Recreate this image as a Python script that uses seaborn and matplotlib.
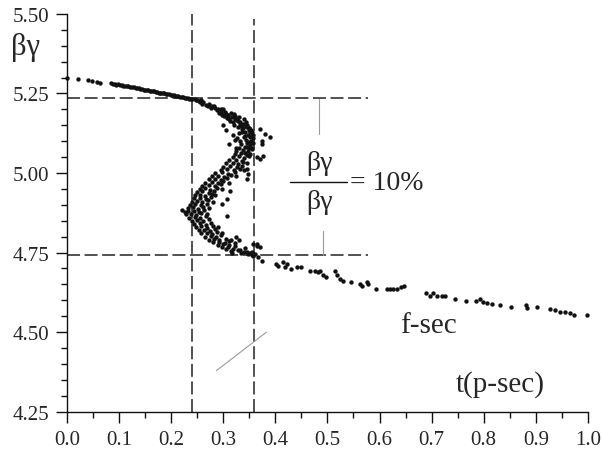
import numpy as np
import pandas as pd
import matplotlib
matplotlib.use("Agg")
import matplotlib.pyplot as plt
from matplotlib.ticker import MultipleLocator, FormatStrFormatter
import seaborn as sns

# --- data: t (p-sec) vs beta*gamma ---
head_t = [0.000, 0.022, 0.040, 0.048, 0.058, 0.063, 0.085, 0.092, 0.098, 0.105,
          0.112, 0.118, 0.125, 0.132, 0.138, 0.145, 0.150, 0.156, 0.162, 0.168,
          0.173, 0.178, 0.184, 0.190, 0.196, 0.202, 0.208, 0.214, 0.220, 0.226,
          0.232, 0.238,
          0.088, 0.095, 0.102, 0.108, 0.115, 0.121, 0.128, 0.135, 0.141, 0.148,
          0.153, 0.159, 0.165, 0.170, 0.176, 0.181, 0.187, 0.193, 0.199, 0.205,
          0.211, 0.217, 0.223, 0.229, 0.235, 0.241, 0.247]
head_bg = [5.298, 5.294, 5.291, 5.289, 5.286, 5.284, 5.282, 5.279, 5.280, 5.276,
           5.275, 5.272, 5.271, 5.268, 5.267, 5.264, 5.262, 5.261, 5.258, 5.257,
           5.255, 5.253, 5.252, 5.249, 5.247, 5.246, 5.243, 5.241, 5.240, 5.237,
           5.236, 5.233,
           5.280, 5.278, 5.277, 5.274, 5.273, 5.270, 5.270, 5.266, 5.265, 5.262,
           5.260, 5.259, 5.257, 5.255, 5.253, 5.251, 5.250, 5.248, 5.246, 5.244,
           5.242, 5.240, 5.238, 5.236, 5.234, 5.232, 5.229]

# upper band up to the turning point
upper_t = [0.245, 0.250, 0.253, 0.256, 0.258, 0.260,
           0.262, 0.266, 0.270, 0.272, 0.276, 0.279,
           0.282, 0.285, 0.288, 0.292, 0.295, 0.298,
           0.300, 0.303, 0.306, 0.309, 0.312, 0.315, 0.318,
           0.320, 0.323, 0.326, 0.329, 0.332, 0.335, 0.338, 0.330,
           0.340, 0.343, 0.346, 0.349, 0.352, 0.355, 0.357, 0.354, 0.345,
           0.300, 0.305, 0.318, 0.322, 0.330, 0.312, 0.325, 0.336, 0.342, 0.350,
           0.290, 0.296, 0.304, 0.310, 0.316, 0.322, 0.327, 0.333, 0.338, 0.344,
           0.349, 0.353, 0.356, 0.358, 0.352, 0.347, 0.341, 0.336, 0.328, 0.320,
           0.313, 0.308, 0.302, 0.297, 0.350, 0.344, 0.339, 0.346, 0.341, 0.352,
           0.356, 0.333, 0.327]
upper_bg = [5.232, 5.228, 5.225, 5.222, 5.230, 5.218,
            5.222, 5.215, 5.210, 5.218, 5.205, 5.212,
            5.210, 5.205, 5.198, 5.190, 5.202, 5.185,
            5.200, 5.192, 5.185, 5.178, 5.170, 5.188, 5.160,
            5.185, 5.178, 5.170, 5.162, 5.155, 5.148, 5.140, 5.175,
            5.170, 5.160, 5.150, 5.140, 5.130, 5.120, 5.110, 5.100, 5.145,
            5.150, 5.135, 5.120, 5.105, 5.125, 5.090, 5.080, 5.128, 5.115, 5.135,
            5.200, 5.195, 5.188, 5.183, 5.176, 5.170, 5.166, 5.160, 5.153, 5.147,
            5.142, 5.135, 5.128, 5.118, 5.112, 5.120, 5.130, 5.138, 5.145, 5.152,
            5.165, 5.172, 5.178, 5.183, 5.098, 5.105, 5.112, 5.082, 5.062, 5.060,
            5.080, 5.100, 5.110]

# band going back down to the left
middle_t = [0.335, 0.345, 0.352, 0.358,
            0.325, 0.338, 0.348, 0.355,
            0.318, 0.330, 0.340, 0.350,
            0.305, 0.318, 0.328, 0.338, 0.345,
            0.295, 0.308, 0.320, 0.332, 0.340,
            0.278, 0.290, 0.302, 0.315, 0.325,
            0.265, 0.278, 0.290, 0.300, 0.312,
            0.255, 0.265, 0.275, 0.288, 0.298,
            0.245, 0.255, 0.265, 0.278, 0.285,
            0.240, 0.250, 0.260, 0.270, 0.280,
            0.232, 0.242, 0.252, 0.262, 0.272,
            0.228, 0.238, 0.248, 0.258, 0.268,
            0.330, 0.342, 0.350, 0.322, 0.334, 0.345, 0.312, 0.324, 0.336,
            0.300, 0.313, 0.326, 0.336, 0.285, 0.298, 0.310, 0.322,
            0.272, 0.284, 0.296, 0.308, 0.260, 0.272, 0.284, 0.295,
            0.250, 0.260, 0.272, 0.282, 0.243, 0.255, 0.266, 0.276,
            0.236, 0.246, 0.258, 0.268, 0.232, 0.243, 0.254, 0.263,
            0.234, 0.246, 0.256, 0.266]
middle_bg = [5.090, 5.093, 5.088, 5.095,
             5.070, 5.072, 5.068, 5.074,
             5.050, 5.052, 5.048, 5.054,
             5.030, 5.032, 5.028, 5.034, 5.030,
             5.010, 5.012, 5.008, 5.014, 5.010,
             4.990, 4.992, 4.988, 4.994, 4.990,
             4.970, 4.972, 4.968, 4.974, 4.970,
             4.950, 4.952, 4.948, 4.954, 4.950,
             4.930, 4.932, 4.928, 4.934, 4.930,
             4.910, 4.912, 4.908, 4.914, 4.910,
             4.890, 4.892, 4.888, 4.894, 4.890,
             4.870, 4.872, 4.868, 4.874, 4.870,
             5.080, 5.082, 5.078, 5.060, 5.062, 5.058, 5.040, 5.042, 5.038,
             5.020, 5.022, 5.018, 5.022, 5.000, 5.002, 4.998, 5.004,
             4.980, 4.982, 4.978, 4.984, 4.960, 4.962, 4.958, 4.964,
             4.940, 4.942, 4.938, 4.944, 4.920, 4.922, 4.918, 4.924,
             4.900, 4.902, 4.898, 4.904, 4.880, 4.882, 4.878, 4.884,
             4.860, 4.862, 4.858, 4.864]

# lower arc back to the right
lower_t = [0.240, 0.250, 0.262, 0.272,
           0.248, 0.258, 0.268, 0.280, 0.290,
           0.258, 0.268, 0.278, 0.288, 0.298,
           0.272, 0.282, 0.292, 0.305, 0.315,
           0.290, 0.300, 0.312, 0.322,
           0.305, 0.318, 0.332, 0.342,
           0.335, 0.345, 0.352,
           0.358, 0.364, 0.355, 0.361, 0.358, 0.367, 0.374,
           0.244, 0.255, 0.266, 0.276, 0.253, 0.263, 0.274, 0.285,
           0.265, 0.276, 0.286, 0.296, 0.280, 0.292, 0.303, 0.312,
           0.298, 0.310, 0.322, 0.315, 0.328, 0.340, 0.348, 0.356]
lower_bg = [4.850, 4.852, 4.848, 4.854,
            4.830, 4.832, 4.828, 4.834, 4.830,
            4.810, 4.812, 4.808, 4.814, 4.810,
            4.790, 4.792, 4.788, 4.794, 4.790,
            4.775, 4.777, 4.773, 4.779,
            4.760, 4.762, 4.758, 4.764,
            4.750, 4.752, 4.748,
            4.777, 4.772, 4.751, 4.746, 4.740, 4.735, 4.725,
            4.840, 4.842, 4.838, 4.844, 4.820, 4.822, 4.818, 4.824,
            4.800, 4.802, 4.798, 4.804, 4.782, 4.784, 4.780, 4.786,
            4.768, 4.766, 4.770, 4.755, 4.757, 4.753, 4.745, 4.743]

# stragglers around the cluster
stray_t = [0.370, 0.380, 0.390, 0.374, 0.374, 0.364, 0.377, 0.370, 0.345, 0.348,
           0.345, 0.313, 0.307, 0.297, 0.307, 0.226, 0.220, 0.316, 0.364, 0.370,
           0.330, 0.325]
stray_bg = [5.139, 5.123, 5.112, 5.102, 5.091, 5.050, 5.055, 5.044, 5.013, 4.997,
            4.981, 4.945, 4.919, 4.903, 4.866, 4.877, 4.885, 4.748, 4.777, 4.769,
            4.790, 4.800]

# tail towards t = 1
tail_t = [0.402, 0.406, 0.415, 0.422, 0.418, 0.431, 0.441, 0.450,
          0.466, 0.476, 0.482, 0.486, 0.492, 0.498,
          0.514, 0.518, 0.524, 0.530,
          0.546, 0.562, 0.566, 0.575, 0.578,
          0.594, 0.614, 0.620, 0.626, 0.633, 0.642, 0.647,
          0.690, 0.697, 0.703, 0.710, 0.719, 0.726,
          0.745, 0.766, 0.786, 0.793, 0.799, 0.806, 0.815, 0.831,
          0.853, 0.881, 0.884, 0.903, 0.927, 0.937, 0.946, 0.956, 0.965, 0.973, 0.999]
tail_bg = [4.714, 4.709, 4.720, 4.714, 4.704, 4.699, 4.704, 4.704,
           4.693, 4.693, 4.688, 4.693, 4.678, 4.673,
           4.693, 4.678, 4.667, 4.662,
           4.657, 4.651, 4.646, 4.657, 4.651,
           4.636, 4.634, 4.634, 4.634, 4.636, 4.641, 4.646,
           4.623, 4.615, 4.623, 4.615, 4.613, 4.615,
           4.604, 4.598, 4.599, 4.604, 4.594, 4.592, 4.589, 4.585,
           4.578, 4.585, 4.575, 4.578, 4.573, 4.568, 4.564, 4.563, 4.560, 4.554, 4.554]

# reference lines
t_lines = [0.24, 0.36]
bg_lines = [5.235, 4.743]

df = pd.DataFrame({
    "t": head_t + upper_t + middle_t + lower_t + stray_t + tail_t,
    "bg": head_bg + upper_bg + middle_bg + lower_bg + stray_bg + tail_bg,
})

sns.set_style("ticks")
plt.rcParams["font.family"] = ["Liberation Serif", "DejaVu Serif"]

fig = plt.figure(figsize=(6.03, 4.52), dpi=100)
ax = fig.add_axes([0.111, 0.087, 0.864, 0.880])

sns.scatterplot(data=df, x="t", y="bg", color="#111111", s=10, linewidth=0,
                ax=ax, clip_on=False, zorder=3)

dash = (0, (8.5, 3))
ax.plot([t_lines[0], t_lines[0]], [4.25, 5.50], color="#222222", lw=1.1, ls=dash, zorder=2)
ax.plot([t_lines[1], t_lines[1]], [4.25, 5.484], color="#222222", lw=1.1, ls=dash, zorder=2)
for b in bg_lines:
    ax.plot([0.0, 0.578], [b, b], color="#222222", lw=1.1, ls=dash, zorder=2)

# thin gray pointer lines
ax.plot([0.484, 0.484], [5.233, 5.123], color="#999999", lw=0.8)
ax.plot([0.491, 0.491], [4.818, 4.743], color="#999999", lw=0.8)
ax.plot([0.287, 0.383], [4.379, 4.500], color="#999999", lw=0.8)

# fraction annotation
ax.text(0.484, 5.032, "βγ", fontsize=20, ha="center", va="center")
ax.plot([0.428, 0.537], [4.972, 4.972], color="#111111", lw=1.0)
ax.text(0.484, 4.912, "βγ", fontsize=20, ha="center", va="center")
ax.text(0.543, 4.970, "= 10%", fontsize=20, ha="left", va="center")

ax.text(0.693, 4.523, "f-sec", fontsize=21, ha="center", va="center")
ax.text(0.831, 4.340, "t(p-sec)", fontsize=21, ha="center", va="center")
fig.text(0.043, 0.896, "βγ", fontsize=22, ha="center", va="center")

ax.set_xlim(0, 1.0)
ax.set_ylim(4.25, 5.50)
ax.xaxis.set_major_locator(MultipleLocator(0.1))
ax.xaxis.set_minor_locator(MultipleLocator(0.05))
ax.yaxis.set_major_locator(MultipleLocator(0.25))
ax.yaxis.set_minor_locator(MultipleLocator(0.05))
ax.xaxis.set_major_formatter(FormatStrFormatter("%.1f"))
ax.yaxis.set_major_formatter(FormatStrFormatter("%.2f"))
ax.tick_params(which="major", length=8, width=1.0, labelsize=15, pad=5, color="#111111")
ax.tick_params(which="minor", length=4, width=1.0, color="#111111")
ax.set_xlabel("")
ax.set_ylabel("")
sns.despine(ax=ax)
for s in ["left", "bottom"]:
    ax.spines[s].set_linewidth(1.0)
    ax.spines[s].set_color("#111111")

fig.savefig("out.png", dpi=100)
